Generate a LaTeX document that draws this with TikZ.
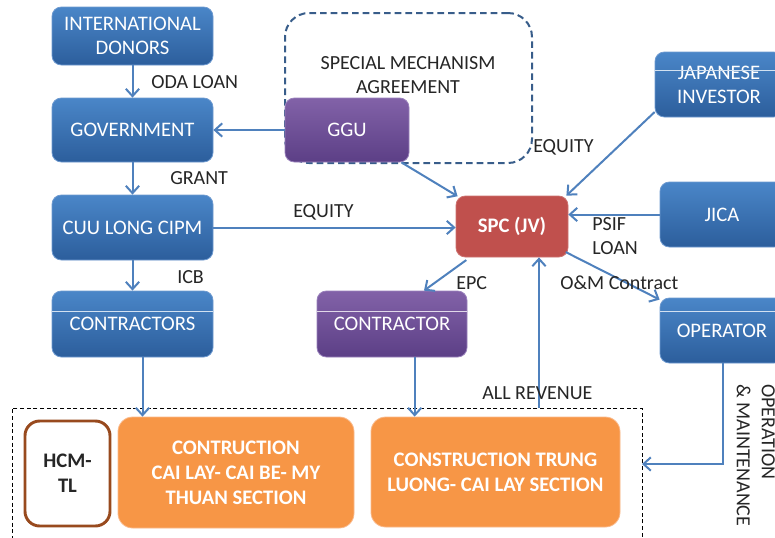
\documentclass[tikz,border=0pt]{standalone}
\usepackage{fontspec}
\setmainfont{Carlito}
\usetikzlibrary{arrows.meta,fit}
\definecolor{bluetop}{HTML}{4A86C8}
\definecolor{bluebot}{HTML}{2C5E9C}
\definecolor{blueedge}{HTML}{6E9AD0}
\definecolor{purpletop}{HTML}{8262A8}
\definecolor{purplebot}{HTML}{5C3F86}
\definecolor{purpleedge}{HTML}{9A82BC}
\definecolor{spcred}{HTML}{C0504D}
\definecolor{orangefill}{HTML}{F79646}
\definecolor{orangeedge}{HTML}{FAB98A}
\definecolor{hcmbrown}{HTML}{984A1E}
\definecolor{smablue}{HTML}{385D8A}
\definecolor{arrowblue}{HTML}{4F81BD}
\definecolor{lbltext}{HTML}{262626}
\newcommand\boxfont{\fontsize{15.5}{18}\selectfont}
\newcommand\lblfont{\fontsize{15}{17.5}\selectfont}
\newcommand\boldfont{\fontsize{15.5}{18.75}\selectfont\bfseries}
\begin{document}
\begin{tikzpicture}[x=0.75pt,y=-0.75pt,
  box/.style={rounded corners=7pt, inner sep=0pt, align=center, text=white, font=\boxfont},
  bluebox/.style={box, top color=bluetop, bottom color=bluebot, draw=blueedge, line width=0.6pt},
  purplebox/.style={box, top color=purpletop, bottom color=purplebot, draw=purpleedge, line width=0.6pt},
  redbox/.style={box, fill=spcred, draw=spcred!80!white, line width=0.6pt, font=\boxfont\bfseries},
  orangebox/.style={box, rounded corners=11pt, fill=orangefill, draw=orangeedge, line width=0.6pt, font=\boldfont},
  hcmbox/.style={box, rounded corners=11pt, fill=white, draw=hcmbrown, line width=2.2pt, text=lbltext, font=\boldfont},
  smabox/.style={draw=smablue, line width=1.5pt, dash pattern=on 5pt off 3pt, rounded corners=18pt, inner sep=0pt},
  zonebox/.style={draw=black, line width=0.75pt, dash pattern=on 3pt off 2pt, inner sep=0pt},
  gloss/.style={draw=white!75!bluetop, line width=0.5pt},
  lbl/.style={font=\lblfont, text=lbltext, inner sep=0pt, align=left},
  arr/.style={draw=arrowblue, line width=1.5pt, -{Straight Barb[length=5.5pt,width=10pt]}}
]
\clip (0,0) rectangle (775,537);
\fill[white] (0,0) rectangle (775,537);

% frames
\node[smabox, minimum width=185.25pt, minimum height=112.5pt] (sma) at (408.5,88) {};
\node[lbl, align=center] (smatext) at (408,75) {SPECIAL MECHANISM\\AGREEMENT};
\node[zonebox, fit={(12,408)(642,560)}] (zone) {};

% left column
\node[bluebox, minimum width=120.75pt, minimum height=43.5pt] (donors) at (132.5,36) {INTERNATIONAL\\DONORS};
\node[bluebox, minimum width=120.75pt, minimum height=48pt] (gov) at (132.5,130) {GOVERNMENT};
\node[bluebox, minimum width=120.75pt, minimum height=48.75pt] (cuu) at (132.5,227.5) {CUU LONG CIPM};
\node[bluebox, minimum width=120.75pt, minimum height=49.5pt] (contractors) at (132.5,324) {CONTRACTORS};
\draw[gloss] ([yshift=-15.75pt]contractors.north west) -- ([yshift=-15.75pt]contractors.north east);

% middle
\node[purplebox, minimum width=93pt, minimum height=48pt] (ggu) at (347,130) {GGU};
\node[redbox, minimum width=84pt, minimum height=45.75pt] (spc) at (512,226.5) {SPC (JV)};
\node[purplebox, minimum width=112.5pt, minimum height=49.5pt] (contractor) at (392,324) {CONTRACTOR};
\draw[gloss, draw=white!75!purpletop] ([yshift=-15.75pt]contractor.north west) -- ([yshift=-15.75pt]contractor.north east);

% right column
\node[bluebox, minimum width=96pt, minimum height=48.75pt] (japan) at (719,84.5) {JAPANESE\\INVESTOR};
\draw[gloss] ([yshift=-14.25pt]japan.north west) -- ([yshift=-14.25pt]japan.north east);
\node[bluebox, minimum width=93pt, minimum height=48.75pt] (jica) at (722,214.5) {JICA};
\node[bluebox, minimum width=93pt, minimum height=48.75pt] (operator) at (722,330.5) {OPERATOR};
\draw[gloss] ([yshift=-10.5pt]operator.north west) -- ([yshift=-10.5pt]operator.north east);

% bottom row
\node[hcmbox, minimum width=63.75pt, minimum height=78.75pt] (hcm) at (67.5,473.5) {HCM-\\TL};
\node[orangebox, minimum width=177pt, minimum height=83.25pt] (sec1) at (236,472.5) {CONTRUCTION\\CAI LAY- CAI BE- MY\\THUAN SECTION};
\node[orangebox, minimum width=186.75pt, minimum height=82.5pt] (sec2) at (495.5,472) {CONSTRUCTION TRUNG\\LUONG- CAI LAY SECTION};

% coordinates for free ends
\coordinate (revbase) at (539,408);
\coordinate (omend) at (642,464);

% connectors
\draw[arr] (donors) -- (gov);
\draw[arr] (ggu.west) -- (gov.east);
\draw[arr] (gov) -- (cuu);
\draw[arr] (cuu) -- (contractors);
\draw[arr] (cuu.east) -- (cuu.east -| spc.west);
\draw[arr] ([xshift=-6pt]ggu.south east) -- ([xshift=1.5pt,yshift=-0.5pt]spc.north west);
\draw[arr] ([yshift=4pt]japan.south west) -- ([xshift=-1.5pt]spc.north east);
\draw[arr] (jica.west) -- (jica.west -| spc.east);
\draw[arr] ([xshift=8pt,yshift=-2pt]spc.south west) -- ([xshift=24pt]contractor.north);
\draw[arr] ([xshift=-2pt,yshift=4pt]spc.south east) -- ([yshift=-1.5pt]operator.north west);
\draw[arr] ([xshift=7.5pt]contractors.south) -- ([xshift=7.5pt]contractors.south |- sec1.north);
\draw[arr] ([xshift=17pt]contractor.south) -- ([xshift=17pt]contractor.south |- sec2.north);
\draw[arr] (revbase) -- (revbase |- spc.south);
\draw[arr] ([xshift=0.75pt]operator.south) |- (omend);

% labels
\node[lbl, anchor=west] (l1) at (151,82) {ODA LOAN};
\node[lbl, anchor=west] (l2) at (170,178) {GRANT};
\node[lbl, anchor=west] (l3) at (177,277) {ICB};
\node[lbl, anchor=west] (l4) at (293,212) {EQUITY};
\node[lbl, anchor=west] (l5) at (533,147) {EQUITY};
\node[lbl, anchor=west] (l6) at (592,236) {PSIF\\LOAN};
\node[lbl, anchor=west] (l7) at (456,283) {EPC};
\node[lbl, anchor=west] (l8) at (560,283) {O\&M Contract};
\node[lbl, anchor=west] (l9) at (482,393) {ALL REVENUE};
\node[lbl, font=\fontsize{15}{18.75}\selectfont, rotate=-90, anchor=north west] (l10) at (775,384) {OPERATION\\\& MAINTENANCE};
\end{tikzpicture}
\end{document}
